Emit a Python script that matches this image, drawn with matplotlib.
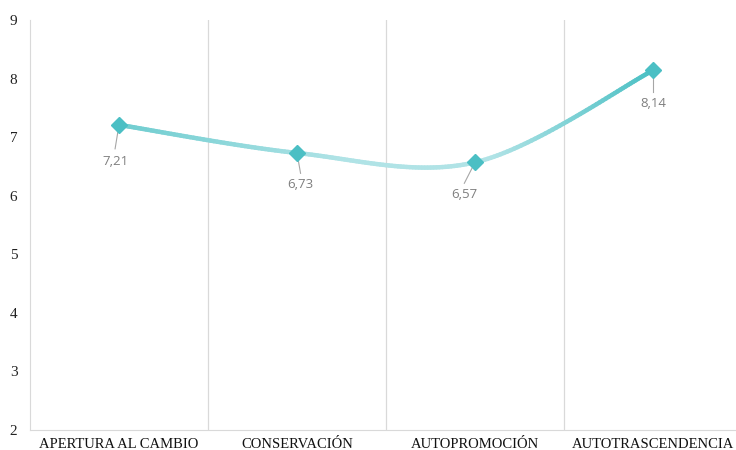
import numpy as np
import matplotlib
matplotlib.use("Agg")
import matplotlib.pyplot as plt
from matplotlib.collections import LineCollection
from matplotlib.colors import LinearSegmentedColormap

categories = ["APERTURA AL CAMBIO", "CONSERVACIÓN", "AUTOPROMOCIÓN", "AUTOTRASCENDENCIA"]
values = [7.21, 6.73, 6.57, 8.14]
labels = ["7,21", "6,73", "6,57", "8,14"]
y_ticks = [2, 3, 4, 5, 6, 7, 8, 9]

fig = plt.figure(figsize=(7.36, 4.5), dpi=100)
ax = fig.add_axes([30/736, 20/450, 712/736, 410/450])

x = np.arange(len(values), dtype=float)
y = np.array(values, dtype=float)

# Catmull-Rom smoothing (Excel-like smoothed line) through the data points
P = np.column_stack([x, y])
Pext = np.vstack([P[0] - (P[1] - P[0]), P, P[-1] + (P[-1] - P[-2])])
pts = []
for i in range(1, len(Pext) - 2):
    p0, p1, p2, p3 = Pext[i-1], Pext[i], Pext[i+1], Pext[i+2]
    if i == 1:
        p0 = p1
    if i == len(Pext) - 3:
        p3 = p2
    for t in np.linspace(0, 1, 60, endpoint=(i == len(Pext) - 3)):
        t2, t3 = t*t, t*t*t
        pt = 0.5 * ((2*p1) + (-p0 + p2)*t + (2*p0 - 5*p1 + 4*p2 - p3)*t2 + (-p0 + 3*p1 - 3*p2 + p3)*t3)
        pts.append(pt)
pts = np.array(pts)
segs = np.stack([pts[:-1], pts[1:]], axis=1)
cmap = LinearSegmentedColormap.from_list(
    "grad", [(0.0, "#6fcdd0"), (0.42, "#b0e3e6"), (0.7, "#b0e3e6"), (1.0, "#4bc0c4")])
tvals = (pts[:-1, 0] - x[0]) / (x[-1] - x[0])
lc = LineCollection(segs, colors=cmap(tvals), linewidths=3.2, capstyle="round", zorder=3)
ax.add_collection(lc)

ax.plot(x, y, linestyle="none", marker="D", markersize=8, color="#4bbfc4", zorder=4)

# data labels with leader lines
offsets = [(-0.022, -0.63), (0.02, -0.535), (-0.06, -0.55), (0.0, -0.57)]
for xi, yi, lab, (dx, dy) in zip(x, y, labels, offsets):
    ax.plot([xi, xi + dx], [yi, yi + dy * 0.65], color="#a6a6a6", lw=0.8, zorder=2)
    ax.text(xi + dx, yi + dy, lab, ha="center", va="center", fontsize=9.5,
            color="#7f7f7f", family="Open Sans", zorder=5)

ax.set_xlim(-0.5, 3.5)
ax.set_ylim(2, 9)
ax.set_yticks(y_ticks)
ax.set_yticklabels([str(v) for v in y_ticks], family="Liberation Serif", fontsize=11, color="#222222")
ax.set_xticks(x)
ax.set_xticklabels(categories, family="Liberation Serif", fontsize=10.5, color="#111111")
ax.tick_params(axis="both", length=0)
ax.tick_params(axis="y", pad=9)
ax.tick_params(axis="x", pad=6)

for b in [0.5, 1.5, 2.5]:
    ax.axvline(b, color="#d9d9d9", lw=0.9, zorder=1)

for s in ["top", "right"]:
    ax.spines[s].set_visible(False)
ax.spines["left"].set_color("#d9d9d9")
ax.spines["bottom"].set_color("#d9d9d9")

fig.savefig("out.png", dpi=100)
